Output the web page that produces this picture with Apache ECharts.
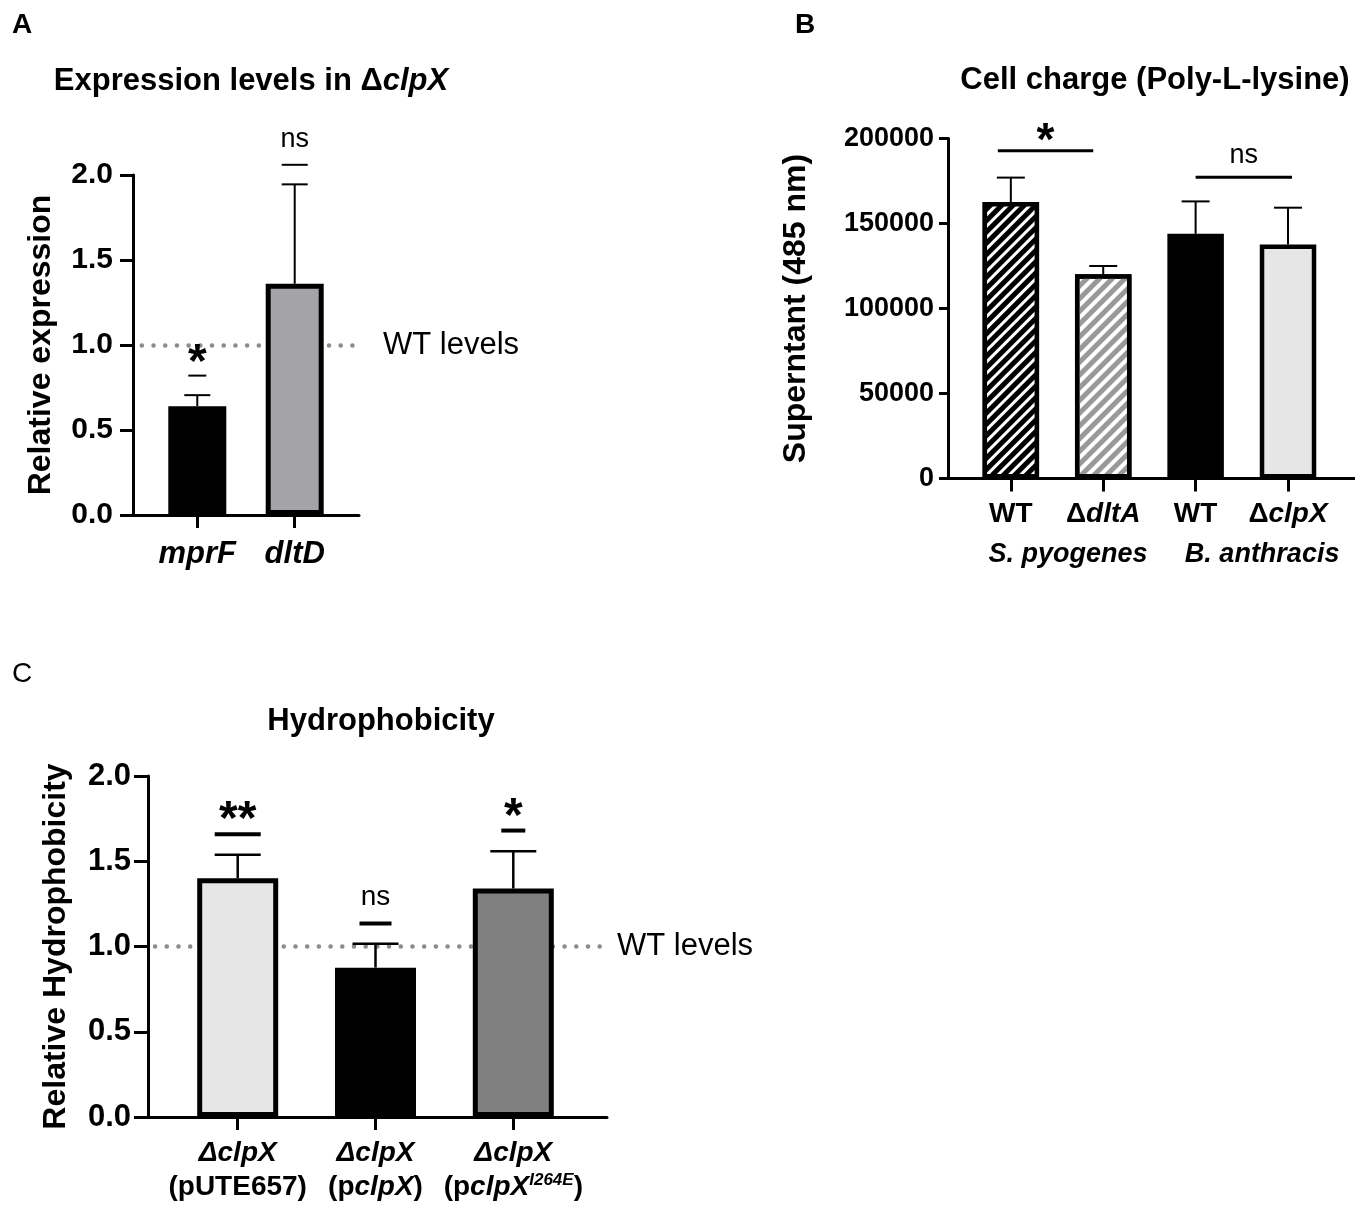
<!DOCTYPE html>
<html>
<head>
<meta charset="utf-8">
<script src="https://cdn.jsdelivr.net/npm/echarts@6/dist/echarts.min.js"></script>
<style>
html, body { margin: 0; padding: 0; background: #fff; }
#chart { width: 1355px; height: 1209px; }
</style>
</head>
<body>
<div id="chart"></div>
<script>
var FONT = "'Liberation Sans', Arial, Helvetica, sans-serif";

// Panel A - expression levels in clpX mutant
var genesA = ['mprF', 'dltD'];
var meanA = [0.64, 1.36];
var errTopA = [0.705, 1.945];
var sigLevelA = [0.82, 2.06];
var sigTextA = ['*', 'ns'];

// Panel B - cell charge
var strainsB = ['WT', 'ΔdltA', 'WT', 'ΔclpX'];
var speciesB = ['S. pyogenes', 'B. anthracis'];
var meanB = [162600, 120200, 143900, 137600];
var errTopB = [177000, 125000, 163000, 159300];
var sigPairsB = [[0, 1], [2, 3]];
var sigLevelB = [192800, 177200];
var sigTextB = ['*', 'ns'];

// Panel C - hydrophobicity
var strainsC = ['ΔclpX (pUTE657)', 'ΔclpX (pclpX)', 'ΔclpX (pclpX I264E)'];
var meanC = [1.40, 0.876, 1.34];
var errTopC = [1.538, 1.016, 1.559];
var sigLevelC = [1.659, 1.135, 1.68];
var sigTextC = ['**', 'ns', '*'];

var wtLevel = 1.0;

var chart = echarts.init(document.getElementById('chart'));

function stripes(color, on, off) {
    return {
        symbol: 'rect', symbolSize: 1, color: color,
        dashArrayX: [1, 0], dashArrayY: [on, off],
        rotation: -Math.PI / 4
    };
}

var barStyleA = [
    { color: '#000', borderColor: '#000', borderWidth: 5 },
    { color: '#a3a3a8', borderColor: '#000', borderWidth: 5 }
];
var barStyleB = [
    { color: '#000', borderColor: '#000', borderWidth: 4.5, decal: stripes('#fff', 3, 5) },
    { color: '#fff', borderColor: '#000', borderWidth: 4.5, decal: stripes('#999', 4.5, 3.5) },
    { color: '#000', borderColor: '#000', borderWidth: 4.5 },
    { color: '#e6e6e6', borderColor: '#000', borderWidth: 4.5 }
];
var barStyleC = [
    { color: '#e6e6e6', borderColor: '#000', borderWidth: 5 },
    { color: '#000', borderColor: '#000', borderWidth: 5 },
    { color: '#808080', borderColor: '#000', borderWidth: 5 }
];

function valueAxisY(grid, min, max, interval, fs, name, gap, fmt, margin, tickLen) {
    return {
        type: 'value', gridIndex: grid, min: min, max: max, interval: interval,
        name: name, nameLocation: 'middle', nameGap: gap,
        nameTextStyle: { fontFamily: FONT, fontSize: 32, fontWeight: 'bold', color: '#000' },
        axisLine: { show: true, onZero: false, lineStyle: { color: '#000', width: 3 } },
        axisTick: { show: true, length: tickLen, lineStyle: { color: '#000', width: 3 } },
        axisLabel: { fontFamily: FONT, fontSize: fs, fontWeight: 'bold', color: '#000', margin: margin, formatter: fmt },
        splitLine: { show: false }
    };
}

function catAxisX(grid, min, max, ticks, fmt, margin, rich) {
    return {
        type: 'value', gridIndex: grid, min: min, max: max, position: 'bottom',
        axisLine: { show: true, onZero: false, lineStyle: { color: '#000', width: 3 } },
        axisTick: { show: true, customValues: ticks, length: 13, lineStyle: { color: '#000', width: 3 } },
        axisLabel: { customValues: ticks, formatter: fmt, margin: margin, rich: rich, color: '#000' },
        splitLine: { show: false }
    };
}

function bars(xi, yi, means, styles, width, markLine) {
    return {
        type: 'bar', xAxisIndex: xi, yAxisIndex: yi, barWidth: width, z: 2,
        silent: true, animation: false,
        data: means.map(function (v, i) { return { value: [i, v], itemStyle: styles[i] }; }),
        markLine: markLine
    };
}

function wtLine(x0, x1, dist, fs) {
    return {
        silent: true, symbol: 'none', z: 1, animation: false,
        lineStyle: { color: '#8c8c8c', width: 4.5, type: [0.1, 11.6], cap: 'round' },
        label: { show: true, position: 'end', distance: dist, formatter: 'WT levels',
                 fontFamily: FONT, fontSize: fs, color: '#000' },
        data: [[{ coord: [x0, wtLevel] }, { coord: [x1, wtLevel] }]]
    };
}

function errorBars(xi, yi, means, tops, capW, lw) {
    return {
        type: 'custom', xAxisIndex: xi, yAxisIndex: yi, z: 3, silent: true, animation: false,
        data: means.map(function (m, i) { return [i, m, tops[i]]; }),
        renderItem: function (params, api) {
            var b = api.coord([api.value(0), api.value(1)]);
            var t = api.coord([api.value(0), api.value(2)]);
            var st = { stroke: '#000', lineWidth: lw };
            return { type: 'group', children: [
                { type: 'line', shape: { x1: b[0], y1: b[1], x2: t[0], y2: t[1] }, style: st },
                { type: 'line', shape: { x1: t[0] - capW / 2, y1: t[1], x2: t[0] + capW / 2, y2: t[1] }, style: st }
            ] };
        }
    };
}

// spans: [from, to] in category units, pad: pixel trims on each end
function sigMarks(xi, yi, spans, levels, texts, pad, lw, gap, fsStar, fsNs) {
    return {
        type: 'custom', xAxisIndex: xi, yAxisIndex: yi, z: 4, silent: true, animation: false,
        data: levels.map(function (v, i) { return [spans[i][0], spans[i][1], v]; }),
        renderItem: function (params, api) {
            var i = params.dataIndex;
            var p1 = api.coord([api.value(0), api.value(2)]);
            var p2 = api.coord([api.value(1), api.value(2)]);
            var x1 = p1[0] + pad[i][0], x2 = p2[0] + pad[i][1];
            var txt = texts[i];
            var star = txt.indexOf('*') >= 0;
            var fs = star ? fsStar : fsNs;
            var ty = p1[1] - gap + (star ? 0.225 * fs : -0.09 * fs);
            return { type: 'group', children: [
                { type: 'line', shape: { x1: x1, y1: p1[1], x2: x2, y2: p1[1] }, style: { stroke: '#000', lineWidth: lw } },
                { type: 'text', style: { text: txt, x: (x1 + x2) / 2, y: ty, align: 'center', verticalAlign: 'middle',
                    fontFamily: FONT, fontSize: fs, fontWeight: star ? 'bold' : 'normal', fill: '#000' } }
            ] };
        }
    };
}

var labelC = {
    'ΔclpX (pUTE657)': '{bi|ΔclpX}\n{b|(pUTE657)}',
    'ΔclpX (pclpX)': '{bi|ΔclpX}\n{b|(p}{bi|clpX}{b|)}',
    'ΔclpX (pclpX I264E)': '{bi|ΔclpX}\n{b|(p}{bi|clpX}{sup|I264E}{b|)}'
};
var labelB = {
    'WT': '{b|WT}',
    'ΔdltA': '{b|Δ}{bi|dltA}',
    'ΔclpX': '{b|Δ}{bi|clpX}'
};

var option = {
    backgroundColor: '#fff',
    animation: false,
    title: [
        { text: 'A', left: 7, top: 6, textStyle: { fontFamily: FONT, fontSize: 28, fontWeight: 'bold', color: '#000' } },
        { text: 'B', left: 790, top: 6, textStyle: { fontFamily: FONT, fontSize: 28, fontWeight: 'bold', color: '#000' } },
        { text: 'C', left: 7, top: 655, textStyle: { fontFamily: FONT, fontSize: 28, fontWeight: 'normal', color: '#000' } },
        { text: 'Expression levels in Δ{i|clpX}', left: 246, top: 61, textAlign: 'center',
          textStyle: { fontFamily: FONT, fontSize: 31, fontWeight: 'bold', color: '#000',
                       rich: { i: { fontFamily: FONT, fontSize: 31, fontWeight: 'bold', fontStyle: 'italic', color: '#000' } } } },
        { text: 'Cell charge (Poly-L-lysine)', left: 1150, top: 60, textAlign: 'center',
          textStyle: { fontFamily: FONT, fontSize: 31, fontWeight: 'bold', color: '#000' } },
        { text: 'Hydrophobicity', left: 376, top: 701, textAlign: 'center',
          textStyle: { fontFamily: FONT, fontSize: 31, fontWeight: 'bold', color: '#000' } }
    ],
    grid: [
        { left: 133, top: 175, width: 226, height: 340 },
        { left: 948, top: 138.5, width: 407, height: 340 },
        { left: 148, top: 776, width: 459, height: 341 }
    ],
    xAxis: [
        catAxisX(0, -0.66, 1.66, [0, 1], function (v) { return '{bi|' + genesA[v] + '}'; }, 24,
            { bi: { fontFamily: FONT, fontSize: 31, fontWeight: 'bold', fontStyle: 'italic', color: '#000' } }),
        catAxisX(1, -0.68, 3.725, [0, 1, 2, 3], function (v) { return labelB[strainsB[v]]; }, 22,
            { b: { fontFamily: FONT, fontSize: 28, fontWeight: 'bold', color: '#000' },
              bi: { fontFamily: FONT, fontSize: 28, fontWeight: 'bold', fontStyle: 'italic', color: '#000' } }),
        {
            type: 'value', gridIndex: 1, min: -0.68, max: 3.725, position: 'bottom', offset: 0,
            axisLine: { show: false, onZero: false }, axisTick: { show: false }, splitLine: { show: false },
            axisLabel: { customValues: [0.62, 2.72], margin: 63,
                formatter: function (v) { return v < 1.5 ? speciesB[0] : speciesB[1]; },
                fontFamily: FONT, fontSize: 27, fontWeight: 'bold', fontStyle: 'italic', color: '#000' }
        },
        catAxisX(2, -0.651, 2.68, [0, 1, 2], function (v) { return labelC[strainsC[v]]; }, 19,
            { b: { fontFamily: FONT, fontSize: 28, fontWeight: 'bold', color: '#000', lineHeight: 34 },
              bi: { fontFamily: FONT, fontSize: 28, fontWeight: 'bold', fontStyle: 'italic', color: '#000', lineHeight: 34 },
              sup: { fontFamily: FONT, fontSize: 17, fontWeight: 'bold', fontStyle: 'italic', color: '#000', padding: [0, 0, 14, 0] } })
    ],
    yAxis: [
        valueAxisY(0, 0, 2, 0.5, 30, 'Relative expression', 76, function (v) { return v.toFixed(1); }, 20, 13),
        valueAxisY(1, 0, 200000, 50000, 27, 'Superntant (485 nm)', 136, function (v) { return String(v); }, 14, 9),
        valueAxisY(2, 0, 2, 0.5, 31, 'Relative Hydrophobicity', 76, function (v) { return v.toFixed(1); }, 17, 14)
    ],
    series: [
        bars(0, 0, meanA, barStyleA, 58, wtLine(-0.57, 1.66, 24, 31)),
        errorBars(0, 0, meanA, errTopA, 26, 2),
        sigMarks(0, 0, [[0, 0], [1, 1]], sigLevelA, sigTextA, [[-9, 9], [-13, 13]], 2, 23, 48, 27),

        bars(1, 1, meanB, barStyleB, 56.5),
        errorBars(1, 1, meanB, errTopB, 28, 2),
        sigMarks(1, 1, sigPairsB, sigLevelB, sigTextB, [[-13, -10], [0, 4]], 3, 19, 46, 27),

        bars(3, 2, meanC, barStyleC, 81, wtLine(-0.6, 2.68, 10, 31)),
        errorBars(3, 2, meanC, errTopC, 46, 2.5),
        sigMarks(3, 2, [[0, 0], [1, 1], [2, 2]], sigLevelC, sigTextC, [[-23, 23], [-16, 16], [-12, 12]], 4, 24, 48, 28)
    ]
};

chart.setOption(option);
</script>
</body>
</html>
